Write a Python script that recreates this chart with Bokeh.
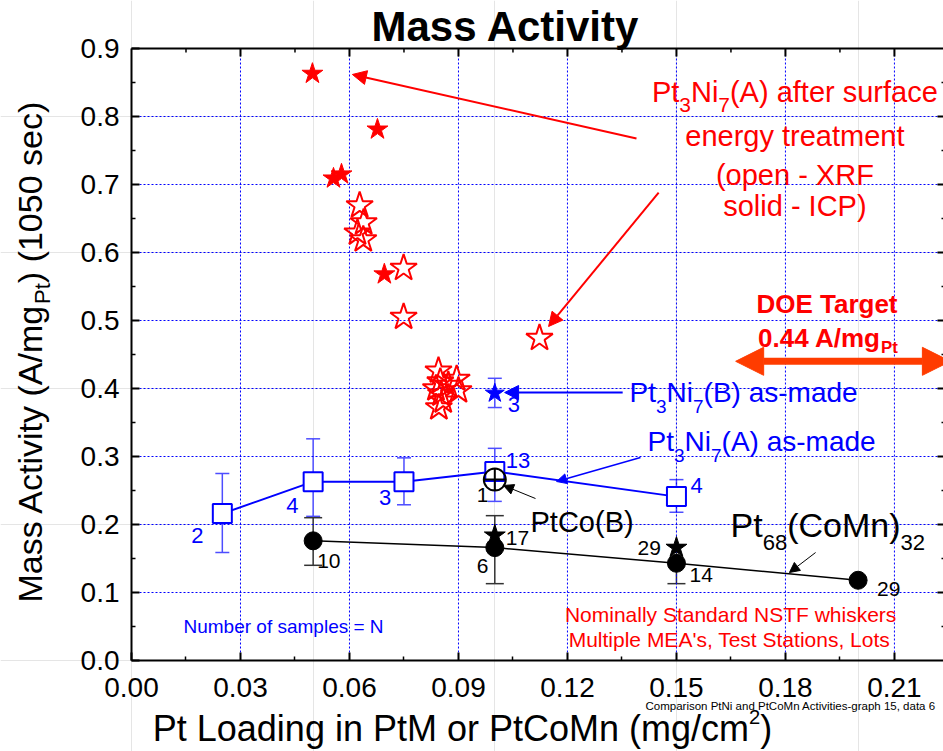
import math
from bokeh.plotting import figure
from bokeh.models import (Range1d, FixedTicker, LinearAxis, Label, Arrow, NormalHead,
                          Whisker, TeeHead, ColumnDataSource, NumeralTickFormatter)
from bokeh.core.properties import value
from bokeh.embed import file_html
from bokeh.resources import INLINE

# ---------------- data ----------------
# Pt3Ni7(A) after surface energy treatment, XRF loading (open stars)
xrf_x = [0.0628, 0.0639, 0.0622, 0.0638, 0.0749, 0.0749, 0.1123,
         0.0845, 0.0850, 0.0838, 0.0852, 0.0858, 0.0846, 0.0895, 0.0900, 0.0872]
xrf_y = [0.669, 0.644, 0.629, 0.619, 0.577, 0.505, 0.474,
         0.426, 0.410, 0.400, 0.392, 0.382, 0.372, 0.414, 0.397, 0.405]
# same, ICP loading (solid stars)
icp_x = [0.0498, 0.0677, 0.0556, 0.0578, 0.0696]
icp_y = [0.863, 0.781, 0.709, 0.715, 0.568]

# Pt3Ni7(B) as-made
ptni_b_x = [0.10]
ptni_b_y = [0.393]
ptni_b_up = [0.415]
ptni_b_lo = [0.372]
ptni_b_n = ["3"]

# Pt3Ni7(A) as-made
ptni_a_x = [0.025, 0.05, 0.075, 0.10, 0.15]
ptni_a_y = [0.216, 0.263, 0.263, 0.278, 0.241]
ptni_a_up = [0.275, 0.326, 0.298, 0.312, 0.266]
ptni_a_lo = [0.159, 0.212, 0.229, 0.234, 0.218]
ptni_a_n = ["2", "4", "3", "13", "4"]

# Pt68(CoMn)32
ptcomn_x = [0.05, 0.10, 0.15, 0.20]
ptcomn_y = [0.176, 0.166, 0.143, 0.118]
ptcomn_n = ["10", "6", "14", "29"]
ptcomn_err_x = [0.05, 0.10, 0.15]
ptcomn_up = [0.210, 0.213, 0.170]
ptcomn_lo = [0.140, 0.113, 0.113]

# PtCo (solid black stars)
ptco_x = [0.10, 0.15]
ptco_y = [0.184, 0.166]
ptco_n = ["17", "29"]

# PtCo(B)
ptco_b_x = [0.10]
ptco_b_y = [0.266]
ptco_b_n = ["1"]

x_ticks = [0.0, 0.03, 0.06, 0.09, 0.12, 0.15, 0.18, 0.21]
x_minor = [0.015, 0.045, 0.075, 0.105, 0.135, 0.165, 0.195]
y_ticks = [0.0, 0.1, 0.2, 0.3, 0.4, 0.5, 0.6, 0.7, 0.8, 0.9]
y_minor = [0.05, 0.15, 0.25, 0.35, 0.45, 0.55, 0.65, 0.75, 0.85]

DOE_TARGET = 0.44

# ---------------- geometry ----------------
FONT = "Liberation Sans"
W, H = 943, 751
XS = 3633.0           # px per data unit (x)
YS = 680.0            # px per data unit (y)
X_MIN = -131 / XS
X_MAX = X_MIN + W / XS
Y_MAX = 0.9 + 48 / YS
Y_MIN = Y_MAX - H / YS
PLOT_Y0, PLOT_Y1 = 0.0, 0.9
PLOT_X0 = 0.0
PLOT_X1 = (945 - 131) / XS   # right frame edge (just outside the window)
K_BASE = 0.38                # baseline correction of the svg text renderer (fraction of size)

p = figure(width=W, height=H, output_backend="svg", toolbar_location=None,
           x_range=Range1d(X_MIN, X_MAX), y_range=Range1d(Y_MIN, Y_MAX),
           x_axis_location=None, y_axis_location=None, min_border=0)
p.background_fill_color = "white"
p.border_fill_color = "white"
p.outline_line_color = None

# ---------------- grid (blue dotted) ----------------
gx = x_ticks[1:]
p.segment(x0=gx, y0=[PLOT_Y0] * len(gx), x1=gx, y1=[PLOT_Y1] * len(gx),
          line_color="#0000FF", line_dash="2 2", line_width=1)
gy = y_ticks[1:-1]
p.segment(x0=[PLOT_X0] * len(gy), y0=gy, x1=[PLOT_X1] * len(gy), y1=gy,
          line_color="#0000FF", line_dash="2 2", line_width=1)

# ---------------- axes ----------------
def style_axis(ax, standoff):
    ax.axis_line_width = 2
    ax.axis_line_color = "black"
    ax.major_tick_in = 8
    ax.major_tick_out = 0
    ax.minor_tick_in = 4
    ax.minor_tick_out = 0
    ax.major_tick_line_width = 2
    ax.minor_tick_line_width = 1.5
    ax.major_label_text_font = FONT
    ax.major_label_text_color = "black"
    ax.major_label_text_font_size = "28px"
    ax.major_label_standoff = standoff

xax = LinearAxis(ticker=FixedTicker(ticks=x_ticks, minor_ticks=x_minor),
                 formatter=NumeralTickFormatter(format="0.00"),
                 fixed_location=PLOT_Y0, bounds=(PLOT_X0, PLOT_X1))
style_axis(xax, 17)
p.add_layout(xax, "below")
yax = LinearAxis(ticker=FixedTicker(ticks=y_ticks, minor_ticks=y_minor),
                 formatter=NumeralTickFormatter(format="0.0"),
                 fixed_location=PLOT_X0, bounds=(PLOT_Y0, PLOT_Y1))
style_axis(yax, 12)
p.add_layout(yax, "left")

# top frame line with inward ticks, right-side inward ticks
p.segment(x0=[PLOT_X0], y0=[PLOT_Y1], x1=[PLOT_X1], y1=[PLOT_Y1], line_color="black", line_width=2)
p.segment(x0=[PLOT_X1], y0=[PLOT_Y0], x1=[PLOT_X1], y1=[PLOT_Y1], line_color="black", line_width=2)
p.ray(x=x_ticks[1:], y=[PLOT_Y1] * (len(x_ticks) - 1), length=8, length_units="screen",
      angle=-math.pi / 2, line_color="black", line_width=2)
p.ray(x=x_minor, y=[PLOT_Y1] * len(x_minor), length=4, length_units="screen",
      angle=-math.pi / 2, line_color="black", line_width=1.5)
p.ray(x=[PLOT_X1] * (len(y_ticks) - 2), y=y_ticks[1:-1], length=8, length_units="screen",
      angle=math.pi, line_color="black", line_width=2)
p.ray(x=[PLOT_X1] * len(y_minor), y=y_minor, length=4, length_units="screen",
      angle=math.pi, line_color="black", line_width=1.5)

# ---------------- text helpers ----------------
W_REG = {" ": 278, "!": 278, "'": 191, "(": 333, ")": 333, ",": 278, "-": 333, ".": 278,
         "/": 278, "=": 584,
         "A": 667, "B": 667, "C": 722, "D": 722, "E": 667, "F": 611, "G": 778, "H": 722,
         "I": 278, "J": 500, "K": 667, "L": 556, "M": 833, "N": 722, "O": 778, "P": 667,
         "Q": 778, "R": 722, "S": 667, "T": 611, "U": 722, "V": 667, "W": 944, "X": 667,
         "Y": 667, "Z": 611,
         "a": 556, "b": 556, "c": 500, "d": 556, "e": 556, "f": 278, "g": 556, "h": 556,
         "i": 222, "j": 222, "k": 500, "l": 222, "m": 833, "n": 556, "o": 556, "p": 556,
         "q": 556, "r": 333, "s": 500, "t": 278, "u": 556, "v": 500, "w": 722, "x": 500,
         "y": 500, "z": 500}
W_BOLD = {" ": 278, ".": 278, "/": 278, "A": 722, "D": 722, "E": 667, "O": 778, "P": 667,
          "T": 611, "a": 556, "e": 556, "g": 611, "m": 889, "r": 389, "t": 333, "c": 556,
          "i": 278, "v": 556, "y": 556, "s": 556, "M": 833}

def tw(s, bold=False):
    tab = W_BOLD if bold else W_REG
    return sum(tab.get(ch, 556) for ch in s) / 1000.0

def rich(x, y, pieces, size, color, bold=False, align="left", angle=0.0,
         sub_scale=0.66, sub_shift=0.34, sup_scale=0.56, sup_shift=0.5):
    specs = []
    total = 0.0
    for t, mode in pieces:
        if mode == "sub":
            fs, sh = size * sub_scale, -size * sub_shift
        elif mode == "sup":
            fs, sh = size * sup_scale, size * sup_shift
        else:
            fs, sh = size, 0.0
        sh += K_BASE * fs
        specs.append((t, fs, sh, total))
        total += tw(t, bold) * fs
    start = -total / 2 if align == "center" else 0.0
    for t, fs, sh, off in specs:
        if angle == 0:
            lx = x + (start + off) / XS
            ly = y + sh / YS
        else:
            lx = x - sh / XS
            ly = y + (start + off) / YS
        p.add_layout(Label(x=lx, y=ly, text=t, text_font=FONT,
                           text_font_size=f"{fs:.1f}px", text_color=color,
                           text_font_style="bold" if bold else "normal",
                           text_align="left", text_baseline="alphabetic", angle=angle))

# ---------------- error bars ----------------
def whisk(xs, up, lo, color, cap):
    src = ColumnDataSource(dict(x=xs, upper=up, lower=lo))
    w = Whisker(source=src, base="x", upper="upper", lower="lower",
                line_color=color, line_width=1.5,
                upper_head=TeeHead(size=cap, line_color=color, line_width=1.5),
                lower_head=TeeHead(size=cap, line_color=color, line_width=1.5))
    p.add_layout(w)

whisk(ptni_a_x, ptni_a_up, ptni_a_lo, "#4D4DFF", 14)
whisk(ptni_b_x, ptni_b_up, ptni_b_lo, "#4D4DFF", 14)
whisk(ptcomn_err_x, ptcomn_up, ptcomn_lo, "#333333", 18)

# ---------------- series ----------------
p.line(ptni_a_x, ptni_a_y, line_color="#0000FF", line_width=2)
p.line(ptcomn_x, ptcomn_y, line_color="black", line_width=1.5)

p.scatter(ptni_a_x, ptni_a_y, marker="square", size=19, fill_color="white",
          line_color="#0000FF", line_width=2)
p.scatter(ptco_b_x, ptco_b_y, marker="circle_cross", size=22, fill_color=None,
          line_color="black", line_width=2)
p.scatter(xrf_x, xrf_y, marker="star", size=28, fill_color=None,
          line_color="#FF0000", line_width=2)
p.scatter(icp_x, icp_y, marker="star", size=22, fill_color="#FF0000",
          line_color="#FF0000", line_width=1)
p.scatter(ptni_b_x, ptni_b_y, marker="star", size=20, fill_color="#0000FF",
          line_color="#0000FF", line_width=1)
p.scatter(ptco_x, ptco_y, marker="star", size=22, fill_color="black",
          line_color="black", line_width=1)
p.scatter(ptcomn_x, ptcomn_y, marker="circle", size=18, fill_color="black",
          line_color="black", line_width=1)

# ---------------- sample-count labels ----------------
def counts(xs, ys, texts, dx, dy, color, size):
    corr = K_BASE * size
    src = ColumnDataSource(dict(x=xs, y=ys, t=texts, dx=dx, dy=[d - corr for d in dy]))
    p.text(x="x", y="y", text="t", x_offset="dx", y_offset="dy", source=src,
           text_font=value(FONT), text_font_size=value(f"{size}px"), text_color=color,
           text_align="left", text_baseline="alphabetic")

counts(ptni_a_x, ptni_a_y, ptni_a_n, [-31, -27, -25, 11, 14], [30, 32, 24, -3, -3], "#0000FF", 22)
counts(ptni_b_x, ptni_b_y, ptni_b_n, [13], [20], "#0000FF", 22)
counts(ptcomn_x, ptcomn_y, ptcomn_n, [4, -18, 13, 19], [28, 26, 20, 17], "black", 21)
counts(ptco_x, ptco_y, ptco_n, [11, -39], [11, 8], "black", 21)
counts(ptco_b_x, ptco_b_y, ptco_b_n, [-18], [23], "black", 21)

# ---------------- arrows ----------------
def arrow(x0, y0, x1, y1, color, lw, head):
    p.add_layout(Arrow(x_start=x0, y_start=y0, x_end=x1, y_end=y1,
                       line_color=color, line_width=lw,
                       end=NormalHead(size=head, fill_color=color, line_color=color)))

arrow(0.1390, 0.7676, 0.0608, 0.8618, "#FF0000", 2, 14)
arrow(0.1451, 0.6882, 0.1148, 0.4912, "#FF0000", 2, 14)
arrow(0.1352, 0.3941, 0.1027, 0.3941, "#0000FF", 2, 14)
arrow(0.1401, 0.2985, 0.1170, 0.2632, "#0000FF", 1.5, 10)
arrow(0.1112, 0.2382, 0.1024, 0.2574, "black", 1, 10)
arrow(0.1883, 0.1588, 0.1811, 0.1294, "black", 1, 10)

DOE_COLOR = "#FF3C00"
p.add_layout(Arrow(x_start=0.1663, y_start=DOE_TARGET, x_end=0.2254, y_end=DOE_TARGET,
                   line_color=DOE_COLOR, line_width=7,
                   start=NormalHead(size=28, fill_color=DOE_COLOR, line_color=DOE_COLOR),
                   end=NormalHead(size=28, fill_color=DOE_COLOR, line_color=DOE_COLOR)))

# ---------------- texts ----------------
rich(0.1030, 0.9088, [("Mass Activity", "n")], 42, "black", bold=True, align="center")
rich(-0.0245, 0.0853, [("Mass Activity (A/mg", "n"), ("Pt", "sub"), (")  (1050 sec)", "n")],
     34, "black", angle=math.pi / 2, sub_scale=0.65, sub_shift=0.24)
rich(0.0911, -0.1206, [("Pt Loading in PtM or PtCoMn (mg/cm", "n"), ("2", "sup"), (")", "n")],
     36, "black", align="center")

red_lines = [
    (0.8191, [("Pt", "n"), ("3", "sub"), ("Ni", "n"), ("7", "sub"), ("(A) after surface", "n")]),
    (0.7544, [("energy treatment", "n")]),
    (0.6985, [("(open - XRF", "n")]),
    (0.6515, [("solid - ICP)", "n")]),
]
for yy, pcs in red_lines:
    rich(0.1826, yy, pcs, 29, "#FF0000", align="center", sub_scale=0.72, sub_shift=0.34)

rich(0.1917, 0.5103, [("DOE Target", "n")], 26, "#FF0000", bold=True, align="center")
rich(0.1917, 0.4603, [("0.44 A/mg", "n"), ("Pt", "sub")], 26, "#FF0000", bold=True,
     align="center", sub_scale=0.65, sub_shift=0.23)

rich(0.13708, 0.3779, [("Pt", "n"), ("3", "sub"), ("Ni", "n"), ("7", "sub"), ("(B) as-made", "n")],
     28, "#0000FF", sub_scale=0.68, sub_shift=0.36)
rich(0.14203, 0.3059, [("Pt", "n"), ("3", "sub"), ("Ni", "n"), ("7", "sub"), ("(A) as-made", "n")],
     28, "#0000FF", sub_scale=0.68, sub_shift=0.36)
rich(0.10983, 0.1868, [("PtCo(B)", "n")], 29, "black")
rich(0.16488, 0.1809, [("Pt", "n"), ("68", "sub"), ("(CoMn)", "n"), ("32", "sub")],
     34, "black", sub_scale=0.65, sub_shift=0.38)

rich(0.01431, 0.0397, [("Number of samples = N", "n")], 19, "#0000FF")
rich(0.1649, 0.0559, [("Nominally Standard NSTF whiskers", "n")], 21, "#FF0000", align="center")
rich(0.1649, 0.0191, [("Multiple MEA's, Test Stations, Lots", "n")], 21, "#FF0000", align="center")
rich(0.14148, -0.0735, [("Comparison PtNi and PtCoMn Activities-graph 15, data 6", "n")], 11.5, "black")

open("out.html", "w").write(file_html(p, INLINE))
